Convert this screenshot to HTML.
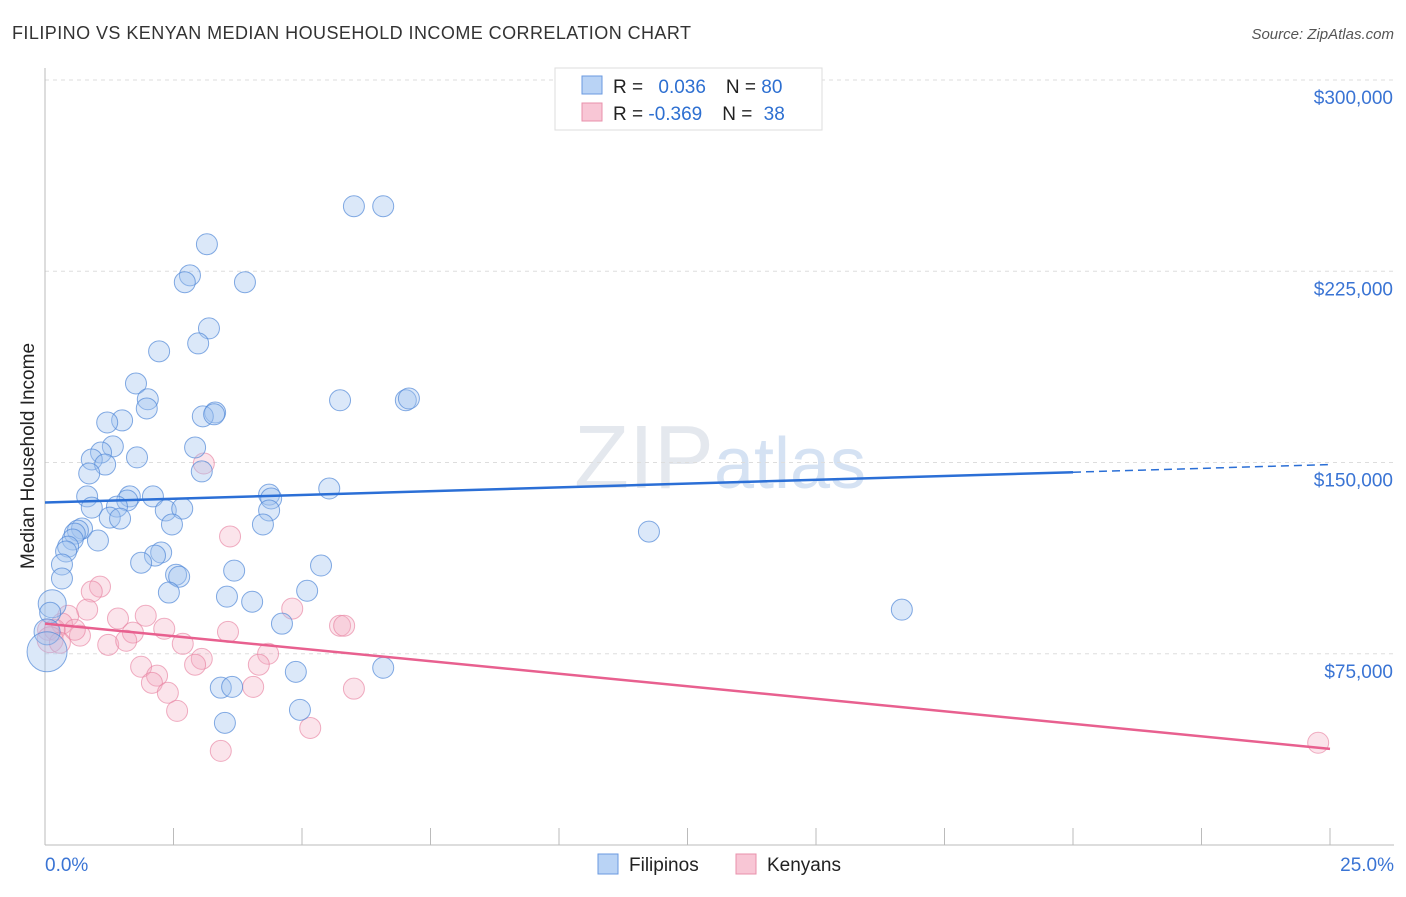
<!DOCTYPE html>
<html><head><meta charset="utf-8"><style>
body{margin:0;background:#fff;font-family:"Liberation Sans",sans-serif}
svg text{font-family:"Liberation Sans",sans-serif}
</style></head><body>
<svg id="chart" width="1406" height="892">
<text x="12" y="39" font-size="18" fill="#333" textLength="679" lengthAdjust="spacing">FILIPINO VS KENYAN MEDIAN HOUSEHOLD INCOME CORRELATION CHART</text>
<text x="1394" y="39" font-size="15" fill="#555" font-style="italic" text-anchor="end">Source: ZipAtlas.com</text>
<text x="720" y="488" font-size="90" fill="#e4e8ee" text-anchor="middle" font-family="Liberation Serif">ZIP<tspan fill="#d5e2f3" font-family="Liberation Sans" font-size="72">atlas</tspan></text>
<g id="grid"></g>
<g id="axes"></g>
<g id="pts"></g>
<g id="lines"></g>
<text transform="translate(34,456) rotate(-90)" font-size="19" fill="#222" text-anchor="middle">Median Household Income</text>
<g>
<rect x="555" y="68" width="267" height="62" fill="#fff" stroke="#ddd"/>
<rect x="582" y="76" width="20" height="18" fill="#b9d3f5" stroke="#6a9ae0"/>
<text x="613" y="93" font-size="19" fill="#222">R = <tspan fill="#2d6fd1" dx="10">0.036</tspan><tspan dx="20" fill="#222">N = </tspan><tspan fill="#2d6fd1">80</tspan></text>
<rect x="582" y="103" width="20" height="18" fill="#f8c6d5" stroke="#e890ab"/>
<text x="613" y="120" font-size="19" fill="#222">R = <tspan fill="#2d6fd1">-0.369</tspan><tspan dx="20" fill="#222">N = </tspan><tspan fill="#2d6fd1" dx="6">38</tspan></text>
</g>
<g>
<rect x="598" y="854" width="20" height="20" fill="#b9d3f5" stroke="#6a9ae0"/>
<text x="629" y="871" font-size="19" fill="#222">Filipinos</text>
<rect x="736" y="854" width="20" height="20" fill="#f8c6d5" stroke="#e890ab"/>
<text x="767" y="871" font-size="19" fill="#222">Kenyans</text>
</g>
</svg>
<script>
const yTicks=[75000,150000,225000,300000];
const yTickLabels=["$75,000","$150,000","$225,000","$300,000"];
const xTickLabels=["0.0%","25.0%"];
const filX=[6.01,6.58,3.15,2.82,2.72,3.89,3.19,2.22,2.98,1.77,2.00,1.98,5.74,7.02,7.08,3.31,3.07,3.29,1.50,1.21,1.32,2.92,1.09,0.91,1.17,1.79,0.86,3.05,2.10,1.65,1.60,0.82,4.36,4.40,5.53,0.91,1.40,2.35,2.67,4.36,1.26,1.46,2.47,4.24,0.72,0.64,0.58,0.54,1.03,0.45,0.41,2.26,2.14,1.87,0.33,5.37,11.75,3.68,2.55,2.61,0.33,2.41,3.54,4.03,5.10,16.67,4.61,0.14,0.10,0.04,0.04,6.58,4.88,3.42,3.64,4.96,3.50];
const filY=[250.5,250.5,235.6,223.4,220.7,220.7,202.6,193.6,196.7,181.0,174.8,171.2,174.4,174.4,175.1,169.6,168.1,168.9,166.5,165.7,156.3,155.9,153.9,151.2,149.2,152.0,145.7,146.5,136.7,136.7,135.1,136.7,137.4,135.9,139.8,132.3,132.7,131.2,131.9,131.2,128.4,128.0,125.7,125.7,124.1,123.3,122.1,119.8,119.4,117.0,115.1,114.7,113.5,110.7,110.0,109.6,122.9,107.6,106.0,105.2,104.5,99.0,97.4,95.4,99.7,92.3,86.8,94.6,91.1,83.6,75.8,69.5,67.9,61.7,62.0,53.0,47.9];
const filSize=filX.map((v,i)=>i===67?14:(i===70?20:(i===69?13:10.5)));
const kenX=[3.09,3.60,1.07,0.91,0.82,1.42,1.96,0.45,4.81,5.74,5.82,2.32,0.68,1.71,3.56,0.33,1.23,1.58,2.68,3.05,4.34,1.87,2.92,4.16,2.18,2.08,2.39,4.05,6.01,2.57,5.16,3.42,24.77,0.06,0.19,0.10,0.58,0.29];
const kenY=[149.6,121.0,101.3,99.4,92.3,88.8,89.9,89.9,92.7,86.0,86.0,84.8,82.1,83.3,83.6,86.8,78.5,80.1,78.9,73.0,75.0,69.9,70.7,70.7,66.4,63.6,59.7,62.0,61.3,52.6,45.9,36.9,40.1,84.4,84.4,80.5,84.4,79.3];
const trendX=[0,20,25];
const filTrend=[134.3,146.2,149.2];
const kenTrend=[86.8,37.7];
const NS="http://www.w3.org/2000/svg";
const X0=45,X1=1330,YB=845,YT=80;
function sx(p){return X0+(X1-X0)*p/25;}
function sy(k){return YB-(YB-YT)*k/300;}
function mk(t,a,p){const e=document.createElementNS(NS,t);for(const k in a)e.setAttribute(k,a[k]);p.appendChild(e);return e;}
const grid=document.getElementById('grid'),axes=document.getElementById('axes'),pts=document.getElementById('pts'),lines=document.getElementById('lines');
yTicks.forEach((v,i)=>{
 const g=mk('line',{x1:X0,x2:1394,y1:sy(v/1000),y2:sy(v/1000),stroke:'#ddd','stroke-dasharray':'4 4'},grid);
 
 
 const t=mk('text',{x:1393,y:sy(v/1000)+24,'font-size':19,fill:'#3a74d4','text-anchor':'end'},axes);
 t.textContent=yTickLabels[i];
 
 
});
const ya=mk('line',{x1:X0,x2:X0,y1:68,y2:YB,stroke:'#bbb'},axes);


const xa=mk('line',{x1:X0,x2:1394,y1:YB,y2:YB,stroke:'#bbb'},axes);


for(let i=0;i<=10;i++){
 const tk=mk('line',{x1:sx(i*2.5),x2:sx(i*2.5),y1:828,y2:YB,stroke:'#bbb'},axes);
 
 
}
[[0,'start',X0],[1,'end',1394]].forEach(([i,a,x])=>{
 const t=mk('text',{x:x,y:871,'font-size':19,fill:'#3a74d4','text-anchor':a},axes);
 t.textContent=xTickLabels[i];
 
 
});
kenX.forEach((x,i)=>{
 const c=mk('circle',{cx:sx(x),cy:sy(kenY[i]),r:i===35?13:10.5,fill:'rgba(244,170,192,0.32)',stroke:'rgba(232,130,162,0.65)','stroke-width':1},pts);
 
 
});
filX.forEach((x,i)=>{
 const c=mk('circle',{cx:sx(x),cy:sy(filY[i]),r:filSize[i],fill:'rgba(160,195,240,0.38)',stroke:'rgba(80,135,215,0.7)','stroke-width':1},pts);
 
 
});
const l1=mk('line',{x1:sx(trendX[0]),y1:sy(filTrend[0]),x2:sx(trendX[1]),y2:sy(filTrend[1]),stroke:'#2b6fd6','stroke-width':2.5},lines);


const l2=mk('line',{x1:sx(trendX[1]),y1:sy(filTrend[1]),x2:sx(trendX[2]),y2:sy(filTrend[2]),stroke:'#2b6fd6','stroke-width':1.5,'stroke-dasharray':'8 5'},lines);


const l3=mk('line',{x1:sx(trendX[0]),y1:sy(kenTrend[0]),x2:sx(trendX[2]),y2:sy(kenTrend[1]),stroke:'#e8608f','stroke-width':2.5},lines);


</script>
</body></html>
